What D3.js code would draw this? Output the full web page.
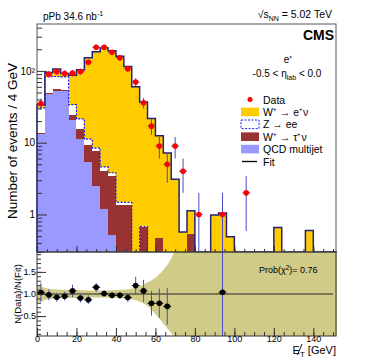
<!DOCTYPE html>
<html>
<head>
<meta charset="utf-8">
<script src="https://cdn.jsdelivr.net/npm/d3@7"></script>
<style>
body { margin: 0; background: #fff; }
svg { font-family: "Liberation Sans", Arial, sans-serif; }
</style>
</head>
<body>
<div id="chart"></div>
<script>
// 4 GeV bins, low edges 0 .. 148
var binLow = d3.range(0, 152, 4);

var dataCounts = [35, 90, 98, 92, 93, 98, 132, 213, 213, 182,
                  152, 107, 70, 36, 17, 9, 5, 9, 4, 0,
                  1, 0, 0, 1, 0, 0, 2, 0, 0, 0,
                  0, 0, 0, 0, 0, 0, 0, 0];
var qcd = [13.4, 48, 53, 52, 21, 11.3, 5.4, 2.5, 1.2, 0.51,
           0, 0, 0, 0, 0, 0, 0, 0, 0, 0,
           0, 0, 0, 0, 0, 0, 0, 0, 0, 0,
           0, 0, 0, 0, 0, 0, 0, 0];
var wtau = [0.2, 0.5, 2.5, 2.5, 3.2, 4, 4, 5.1, 2.8, 2.9,
            1.35, 1.35, 0, 0.67, 0, 0.47, 0, 0, 0, 0.54,
            0, 0, 0, 0, 0, 0, 0, 0, 0, 0,
            0, 0, 0, 0, 0, 0, 0, 0];
var zee = [17, 34.5, 28, 28, 9.6, 6.2, 1.8, 0.8, 0.6, 0.4,
           0.12, 0.12, 0, 0.01, 0, 0, 0, 0, 0, 0,
           0, 0, 0, 0, 0, 0, 0, 0, 0, 0,
           0, 0, 0, 0, 0, 0, 0, 0];
var wenu = [3.2, 12, 22.5, 9.5, 53, 82.5, 141, 176.6, 206, 187,
            158.5, 113.5, 60, 36.3, 21.8, 12, 7.2, 3.1, 0.57, 0.59,
            0, 0, 0.98, 1.05, 0.49, 0, 0, 0, 0, 0,
            0.66, 0, 0, 0, 0.6, 0, 0, 0];

// ratio panel
var ratioX = [2, 6, 10, 14, 18, 22, 26, 30, 34, 38, 42, 46, 50, 54, 58, 62, 66, 94];
var ratio = [1.035, 0.98, 0.925, 0.95, 1.07, 0.91, 0.87, 1.15, 1.01, 0.97,
             0.97, 0.92, 1.19, 1.07, 0.79, 0.79, 0.72, 1.04];
var ratioErr = [0.22, 0.12, 0.1, 0.1, 0.14, 0.1, 0.1, 0.1, 0.07, 0.07,
                0.08, 0.1, 0.2, 0.25, 0.28, 0.33, 0.42, 2];
var bandX = [0, 3, 6, 10, 15, 20, 25, 30, 35, 40, 45, 50, 55, 60, 65, 68, 70, 72, 152];
var bandHi = [1.2, 1.15, 1.12, 1.1, 1.09, 1.09, 1.08, 1.08, 1.08, 1.09, 1.1, 1.14, 1.24, 1.37, 1.6, 1.8, 1.96, 1.96, 1.96];
var bandLo = [0.8, 0.85, 0.88, 0.9, 0.91, 0.91, 0.92, 0.92, 0.92, 0.91, 0.9, 0.86, 0.76, 0.55, 0.28, 0.12, 0.04, 0.04, 0.04];

var xTicks = [0, 20, 40, 60, 80, 100, 120, 140];
var logTicks = [1, 10, 100];
var ratioTicks = [0.5, 1, 1.5];
var legendLabels = ["Data", "W\u207A \u2192 e\u207A\u03BD", "Z \u2192 ee", "W\u207A \u2192 \u03C4\u207A\u03BD", "QCD multijet", "Fit"];

var colors = {qcd: "#9999ff", wtau: "#993333", zee: "#ffffff", wenu: "#ffcc00"};
var fitColor = "#232370", errColor = "#4a4ac8", bandColor = "#d1cb88";

var width = 374, height = 361;
var svg = d3.select("#chart").append("svg")
    .attr("width", width).attr("height", height);

// scales
var x = d3.scaleLinear().domain([0, 152]).range([37, 337]);
var y = d3.scaleLog().domain([0.3, 450]).range([252, 24]).clamp(true);
var yr = d3.scaleLinear().domain([0.05, 1.95]).range([336, 252]);
function yv(v) { return y(Math.max(v, 1e-3)); }

// stacked table
var table = binLow.map(function (lo, i) {
    return {lo: lo, qcd: qcd[i], wtau: wtau[i], zee: zee[i], wenu: wenu[i]};
});
var keys = ["qcd", "wtau", "zee", "wenu"];
var stack = d3.stack().keys(keys)(table);

var upper = svg.append("g");
upper.selectAll("g.layer")
    .data(stack)
    .join("g")
    .attr("fill", function (d) { return colors[d.key]; })
    .selectAll("rect")
    .data(function (d) { return d; })
    .join("rect")
    .attr("x", function (d) { return x(d.data.lo); })
    .attr("width", function (d) { return x(d.data.lo + 4) - x(d.data.lo); })
    .attr("y", function (d) { return yv(d[1]); })
    .attr("height", function (d) { return yv(d[0]) - yv(d[1]); })
    .attr("shape-rendering", "crispEdges");

// Z -> ee dashed outline
var zTop = stack[2].slice(0, 14).map(function (d) { return {lo: d.data.lo, v: d[1]}; });
zTop.unshift({lo: 0, v: 0});
zTop.push({lo: 56, v: 0});
var step = d3.line()
    .x(function (d) { return x(d.lo); })
    .y(function (d) { return yv(d.v); })
    .curve(d3.curveStepAfter);
upper.append("path")
    .attr("d", step(zTop))
    .attr("fill", "none")
    .attr("stroke", "#1a1aff")
    .attr("stroke-width", 1.2)
    .attr("stroke-dasharray", "2,1.5");

// fit line (total)
var fit = stack[3].map(function (d) { return {lo: d.data.lo, v: d[1]}; });
fit.unshift({lo: 0, v: 0});
fit.push({lo: 152, v: 0});
upper.append("path")
    .attr("d", step(fit))
    .attr("fill", "none")
    .attr("stroke", fitColor)
    .attr("stroke-width", 1.5);

// data points
var pts = binLow.map(function (lo, i) { return {lo: lo, n: dataCounts[i]}; })
    .filter(function (d) { return d.n > 0; });
var dp = upper.append("g");
dp.selectAll("line.ev")
    .data(pts)
    .join("line")
    .attr("x1", function (d) { return x(d.lo + 2); })
    .attr("x2", function (d) { return x(d.lo + 2); })
    .attr("y1", function (d) { return yv(d.n + Math.sqrt(d.n)); })
    .attr("y2", function (d) { return yv(d.n - Math.sqrt(d.n)); })
    .attr("stroke", errColor);
dp.selectAll("line.eh")
    .data(pts)
    .join("line")
    .attr("x1", function (d) { return x(d.lo); })
    .attr("x2", function (d) { return x(d.lo + 4); })
    .attr("y1", function (d) { return yv(d.n); })
    .attr("y2", function (d) { return yv(d.n); })
    .attr("stroke", errColor);
dp.selectAll("circle")
    .data(pts)
    .join("circle")
    .attr("cx", function (d) { return x(d.lo + 2); })
    .attr("cy", function (d) { return yv(d.n); })
    .attr("r", 2.8)
    .attr("fill", "#ff0000");

// ratio panel
var lower = svg.append("g");
svg.append("clipPath").attr("id", "rclip")
    .append("rect").attr("x", 37).attr("y", 252).attr("width", 300).attr("height", 84);
var band = d3.area()
    .x(function (d, i) { return x(bandX[i]); })
    .y0(function (d, i) { return yr(bandLo[i]); })
    .y1(function (d, i) { return yr(bandHi[i]); })
    .curve(d3.curveMonotoneX);
lower.append("path")
    .attr("d", band(bandX))
    .attr("fill", bandColor)
    .attr("clip-path", "url(#rclip)");
lower.append("line")
    .attr("x1", x(0)).attr("x2", x(150))
    .attr("y1", yr(1)).attr("y2", yr(1))
    .attr("stroke", "#222").attr("stroke-width", 1);
var rp = lower.append("g").attr("clip-path", "url(#rclip)");
rp.selectAll("line.rv")
    .data(ratioX)
    .join("line")
    .attr("x1", function (d) { return x(d); })
    .attr("x2", function (d) { return x(d); })
    .attr("y1", function (d, i) { return yr(ratio[i] + ratioErr[i]); })
    .attr("y2", function (d, i) { return yr(ratio[i] - ratioErr[i]); })
    .attr("stroke", errColor);
rp.selectAll("line.rh")
    .data(ratioX)
    .join("line")
    .attr("x1", function (d) { return x(d - 2); })
    .attr("x2", function (d) { return x(d + 2); })
    .attr("y1", function (d, i) { return yr(ratio[i]); })
    .attr("y2", function (d, i) { return yr(ratio[i]); })
    .attr("stroke", "#000");
rp.selectAll("circle")
    .data(ratioX)
    .join("circle")
    .attr("cx", function (d) { return x(d); })
    .attr("cy", function (d, i) { return yr(ratio[i]); })
    .attr("r", 2.8)
    .attr("fill", "#000");
var prob = lower.append("text")
    .attr("x", 259).attr("y", 273)
    .attr("font-size", 9);
prob.append("tspan").text("Prob(\u03C7");
prob.append("tspan").attr("dy", -3).attr("font-size", 6.5).text("2");
prob.append("tspan").attr("dy", 3).text(")= 0.76");

// frames
svg.append("rect").attr("x", 37).attr("y", 24).attr("width", 299).attr("height", 228)
    .attr("fill", "none").attr("stroke", "#555").attr("stroke-width", 1);
svg.append("rect").attr("x", 37).attr("y", 252).attr("width", 299).attr("height", 84)
    .attr("fill", "none").attr("stroke", "#333").attr("stroke-width", 1);

// axes (ticks point inward)
function minorLog() {
    var v = [];
    [0.1, 1, 10, 100].forEach(function (p) {
        for (var k = 2; k <= 9; k++) { if (k * p >= 0.3 && k * p <= 450) v.push(k * p); }
    });
    return v;
}
svg.append("g").attr("transform", "translate(37,0)")
    .call(d3.axisLeft(y).tickValues(minorLog()).tickSize(-5).tickFormat(""));
svg.append("g").attr("transform", "translate(37,0)")
    .call(d3.axisLeft(y).tickValues(logTicks).tickSize(-10).tickPadding(2)
        .tickFormat(function (d) { return d === 100 ? "10\u00B2" : d; }))
    .attr("font-size", 10);
svg.append("g").attr("transform", "translate(0,252)")
    .call(d3.axisBottom(x).tickValues(d3.range(0, 152, 5)).tickSize(-3).tickFormat(""));
svg.append("g").attr("transform", "translate(0,252)")
    .call(d3.axisBottom(x).tickValues(xTicks).tickSize(-6).tickFormat(""));
svg.append("g").attr("transform", "translate(37,0)")
    .call(d3.axisLeft(yr).tickValues(d3.range(0.1, 1.95, 0.1)).tickSize(-4).tickFormat(""));
svg.append("g").attr("transform", "translate(37,0)")
    .call(d3.axisLeft(yr).tickValues(ratioTicks).tickSize(-9).tickPadding(1))
    .attr("font-size", 9);
svg.append("g").attr("transform", "translate(0,336)")
    .call(d3.axisBottom(x).tickValues(d3.range(0, 152, 5)).tickSize(-4).tickFormat(""));
svg.append("g").attr("transform", "translate(0,336)")
    .call(d3.axisBottom(x).tickValues(xTicks).tickSize(-8).tickPadding(0))
    .attr("font-size", 9);
svg.selectAll(".domain").remove();
svg.selectAll(".tick line").attr("stroke", "#333");
svg.selectAll(".tick text").attr("fill", "#000").attr("font-family", "Liberation Sans, Arial, sans-serif");

// axis titles
svg.append("text")
    .attr("transform", "translate(17,141) rotate(-90)")
    .attr("text-anchor", "middle").attr("font-size", 13.5)
    .text("Number of events / 4 GeV");
svg.append("text")
    .attr("transform", "translate(21,294) rotate(-90)")
    .attr("text-anchor", "middle").attr("font-size", 9.5)
    .text("N(Data)/N(Fit)");
var xt = svg.append("text")
    .attr("x", 336).attr("y", 354)
    .attr("text-anchor", "end").attr("font-size", 11);
xt.append("tspan").text("E");
xt.append("tspan").attr("dy", 3).attr("font-size", 8).text("T");
xt.append("tspan").attr("dy", -3).text(" [GeV]");
svg.append("line")
    .attr("x1", 297.5).attr("y1", 355).attr("x2", 302).attr("y2", 344)
    .attr("stroke", "#000").attr("stroke-width", 0.9);

// header texts
var t1 = svg.append("text").attr("x", 43).attr("y", 19.5).attr("font-size", 10);
t1.append("tspan").text("pPb 34.6 nb");
t1.append("tspan").attr("dy", -3.5).attr("font-size", 7).text("-1");
var t2 = svg.append("text").attr("x", 332).attr("y", 18)
    .attr("text-anchor", "end").attr("font-size", 10.5);
t2.append("tspan").text("\u221As");
t2.append("tspan").attr("dy", 2.5).attr("font-size", 7).text("NN");
t2.append("tspan").attr("dy", -2.5).text(" = 5.02 TeV");
svg.append("text").attr("x", 334).attr("y", 40)
    .attr("text-anchor", "end").attr("font-size", 14).attr("font-weight", "bold")
    .text("CMS");
svg.append("text").attr("x", 288).attr("y", 63)
    .attr("text-anchor", "middle").attr("font-size", 10)
    .text("e\u207A");
var t3 = svg.append("text").attr("x", 287).attr("y", 77)
    .attr("text-anchor", "middle").attr("font-size", 10);
t3.append("tspan").text("-0.5 < \u03B7");
t3.append("tspan").attr("dy", 3).attr("font-size", 7).text("lab");
t3.append("tspan").attr("dy", -3).text(" < 0.0");

// legend
var leg = svg.append("g").attr("font-size", 10.5);
var legY = legendLabels.map(function (d, i) { return 99.5 + i * 12.4; });
leg.selectAll("text")
    .data(legendLabels)
    .join("text")
    .attr("x", 263)
    .attr("y", function (d, i) { return legY[i] + 4; })
    .text(function (d) { return d; });
leg.append("circle").attr("cx", 250).attr("cy", legY[0]).attr("r", 2.5).attr("fill", "#ff0000");
["wenu", "zee", "wtau", "qcd"].forEach(function (k, j) {
    leg.append("rect")
        .attr("x", 241).attr("y", legY[j + 1] - 4.3)
        .attr("width", 18).attr("height", 8.6)
        .attr("fill", colors[k])
        .attr("stroke", k === "zee" ? "#1a1aff" : "none")
        .attr("stroke-dasharray", k === "zee" ? "2,1.5" : null);
});
leg.append("line")
    .attr("x1", 242).attr("x2", 257)
    .attr("y1", legY[5]).attr("y2", legY[5])
    .attr("stroke", "#000").attr("stroke-width", 1.3);
</script>
</body>
</html>
